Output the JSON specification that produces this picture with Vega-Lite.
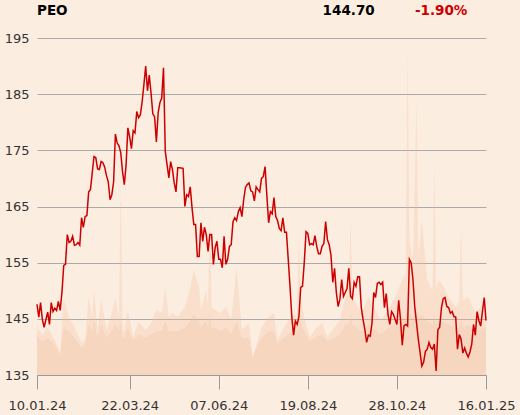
{
  "$schema": "https://vega.github.io/schema/vega-lite/v6.json",
  "width": 449,
  "height": 337,
  "autosize": {"type": "none"},
  "padding": {"left": 37, "top": 38, "right": 34, "bottom": 40},
  "background": "#fcede1",
  "config": {"font": "DejaVu Sans", "view": {"stroke": null}},
  "datasets": {
    "px": [
      {"i":0,"p":147.6},{"i":1,"p":145.3},{"i":2,"p":147.9},{"i":3,"p":144.9},{"i":4,"p":143.5},{"i":6,"p":146.2},{"i":7,"p":144},{"i":8,"p":147.9},{"i":9,"p":146.3},{"i":10,"p":146.9},
      {"i":11,"p":146.5},{"i":12,"p":148.1},{"i":13,"p":146.5},{"i":14,"p":149.7},{"i":15,"p":154.5},{"i":16,"p":154.7},{"i":17,"p":160},{"i":18,"p":158.6},{"i":19,"p":158.8},{"i":20,"p":159.7},
      {"i":21,"p":158.1},{"i":22,"p":158.2},{"i":23,"p":158.6},{"i":24,"p":158.1},{"i":25,"p":163},{"i":26,"p":161.3},{"i":27,"p":163.2},{"i":28,"p":163.4},{"i":29,"p":167.6},{"i":30,"p":168},
      {"i":31,"p":171},{"i":32,"p":173.9},{"i":33,"p":173.7},{"i":34,"p":171.7},{"i":35,"p":171.6},{"i":36,"p":173},{"i":37,"p":172.8},{"i":38,"p":172},{"i":39,"p":170.5},{"i":40,"p":169.4},
      {"i":41,"p":166.2},{"i":42,"p":167.1},{"i":43,"p":169.4},{"i":44,"p":177.9},{"i":45,"p":176.3},{"i":46,"p":175.8},{"i":47,"p":174.6},{"i":48,"p":171.2},{"i":49,"p":168.9},{"i":50,"p":172.4},
      {"i":51,"p":179},{"i":52,"p":177.4},{"i":53,"p":175.3},{"i":54,"p":178.5},{"i":55,"p":178.1},{"i":56,"p":181.9},{"i":57,"p":180.8},{"i":58,"p":181.3},{"i":59,"p":183.6},{"i":60,"p":186.7},
      {"i":61,"p":190},{"i":62,"p":185.6},{"i":63,"p":188.4},{"i":64,"p":185.2},{"i":65,"p":181.5},{"i":66,"p":181},{"i":67,"p":176.5},{"i":68,"p":181.7},{"i":69,"p":183.5},{"i":70,"p":184.3},
      {"i":71,"p":189.7},{"i":72,"p":174.8},{"i":73,"p":172.4},{"i":74,"p":170.1},{"i":75,"p":173},{"i":76,"p":171.6},{"i":77,"p":169.2},{"i":78,"p":167.6},{"i":79,"p":171.9},{"i":80,"p":171.9},
      {"i":82,"p":171.8},{"i":83,"p":165},{"i":84,"p":167.1},{"i":85,"p":166.8},{"i":86,"p":168.5},{"i":87,"p":164.8},{"i":88,"p":161.8},{"i":89,"p":161.8},{"i":90,"p":156.1},
      {"i":91,"p":156.1},{"i":92,"p":162.1},{"i":93,"p":158.8},{"i":94,"p":161.3},{"i":95,"p":160},{"i":96,"p":157},{"i":97,"p":160},{"i":98,"p":160},{"i":99,"p":154.7},{"i":100,"p":157.7},
      {"i":101,"p":158.8},{"i":102,"p":155.6},{"i":103,"p":155.6},{"i":104,"p":154.1},{"i":105,"p":159.7},{"i":106,"p":154.7},{"i":107,"p":155.6},{"i":108,"p":157.9},{"i":109,"p":158.2},{"i":110,"p":162.3},
      {"i":111,"p":163},{"i":112,"p":162.5},{"i":113,"p":164.1},{"i":114,"p":164.8},{"i":115,"p":163.2},{"i":116,"p":166.2},{"i":117,"p":168.4},{"i":118,"p":168.9},{"i":119,"p":169.2},{"i":120,"p":167.8},
      {"i":121,"p":167.6},{"i":122,"p":166},{"i":123,"p":168.5},{"i":124,"p":168},{"i":125,"p":167.6},{"i":126,"p":170},{"i":127,"p":170.3},{"i":128,"p":172.1},{"i":129,"p":167},{"i":130,"p":162.1},
      {"i":131,"p":164.1},{"i":132,"p":163.7},{"i":133,"p":166.6},{"i":134,"p":163.2},{"i":135,"p":162.5},{"i":136,"p":161.1},{"i":137,"p":160.7},{"i":138,"p":163},{"i":139,"p":160.4},{"i":140,"p":160.4},
      {"i":141,"p":155.6},{"i":142,"p":150.8},{"i":143,"p":145.4},{"i":144,"p":142.1},{"i":145,"p":144.6},{"i":146,"p":144},{"i":147,"p":145.4},{"i":148,"p":150.6},{"i":149,"p":150.8},{"i":150,"p":155},
      {"i":151,"p":160.5},{"i":152,"p":160.2},{"i":153,"p":158.2},{"i":154,"p":158.4},{"i":155,"p":158.2},{"i":156,"p":159.8},{"i":157,"p":157.9},{"i":158,"p":156.6},{"i":159,"p":156.6},{"i":160,"p":157.9},
      {"i":161,"p":158.4},{"i":162,"p":162.3},{"i":163,"p":159.1},{"i":164,"p":158.2},{"i":165,"p":156.3},{"i":166,"p":151.5},{"i":167,"p":154},{"i":168,"p":149.7},{"i":169,"p":147.2},{"i":170,"p":148.5},
      {"i":171,"p":152},{"i":172,"p":149},{"i":173,"p":149.7},{"i":174,"p":150.4},{"i":175,"p":154},{"i":176,"p":149},{"i":177,"p":148.6},{"i":178,"p":151.5},{"i":179,"p":150.8},{"i":180,"p":152.5},
      {"i":181,"p":152.5},{"i":182,"p":147},{"i":183,"p":144.9},{"i":184,"p":143.1},{"i":185,"p":140.8},{"i":186,"p":142.1},{"i":187,"p":141.9},{"i":188,"p":144.2},{"i":189,"p":149.7},{"i":190,"p":148.8},
      {"i":191,"p":151.3},{"i":192,"p":151.5},{"i":193,"p":151.1},{"i":194,"p":151.5},{"i":195,"p":147},{"i":196,"p":149.5},{"i":197,"p":145.8},{"i":198,"p":144},{"i":199,"p":146.3},{"i":200,"p":145.8},
      {"i":201,"p":144.9},{"i":202,"p":144},{"i":203,"p":148.3},{"i":204,"p":144.9},{"i":205,"p":140.3},{"i":206,"p":143.8},{"i":207,"p":144},{"i":208,"p":143.7},{"i":209,"p":155.6},{"i":210,"p":155},
      {"i":211,"p":152},{"i":212,"p":147.2},{"i":214,"p":141.4},{"i":216,"p":136.6},{"i":217,"p":137.3},{"i":218,"p":139.2},{"i":219,"p":139.6},{"i":220,"p":140.8},
      {"i":221,"p":139.9},{"i":222,"p":139.6},{"i":223,"p":140.5},{"i":224,"p":135.7},{"i":225,"p":143.1},{"i":226,"p":143.5},{"i":227,"p":147},{"i":228,"p":148.6},{"i":229,"p":148.8},{"i":230,"p":147.2},
      {"i":231,"p":147},{"i":232,"p":146},{"i":233,"p":146.3},{"i":234,"p":145.4},{"i":235,"p":145.3},{"i":236,"p":139.6},{"i":237,"p":142.2},{"i":238,"p":141.4},{"i":239,"p":138.9},{"i":240,"p":139.8},
      {"i":241,"p":138.9},{"i":242,"p":138.2},{"i":243,"p":139.1},{"i":244,"p":140.5},{"i":245,"p":144},{"i":246,"p":142.1},{"i":247,"p":146.3},{"i":248,"p":144.7},{"i":249,"p":143.7},{"i":250,"p":146.3},
      {"i":251,"p":148.8},{"i":252,"p":144.7}
    ],
    "vol": [
      {"i":0,"v":1.5,"s":1.2},{"i":1,"v":1.34,"s":1.1},{"i":3,"v":1.2,"s":1.0},{"i":6,"v":1.42,"s":1.1},{"i":10,"v":1.04,"s":0.9},{"i":13,"v":0.65,"s":0.6},{"i":15,"v":2.28,"s":1.4},
      {"i":18,"v":1.72,"s":1.3},{"i":21,"v":1.42,"s":1.1},{"i":25,"v":0.95,"s":0.8},{"i":27,"v":1.04,"s":0.9},{"i":29,"v":2.31,"s":1.5},{"i":31,"v":1.72,"s":1.3},{"i":32,"v":2.52,"s":1.6},
      {"i":34,"v":1.34,"s":1.1},{"i":36,"v":2.28,"s":1.5},{"i":39,"v":1.34,"s":1.1},{"i":42,"v":1.84,"s":1.3},{"i":44,"v":2.28,"s":1.5},{"i":46,"v":1.72,"s":1.3},{"i":47,"v":5.79,"s":1.6},
      {"i":48,"v":1.3,"s":1.1},{"i":49,"v":1.34,"s":1.1},{"i":51,"v":1.93,"s":1.4},{"i":54,"v":1.13,"s":1.0},{"i":57,"v":1.57,"s":1.2},{"i":61,"v":1.34,"s":1.1},{"i":64,"v":1.54,"s":1.2},
      {"i":67,"v":1.93,"s":1.3},{"i":70,"v":1.84,"s":1.3},{"i":72,"v":2.58,"s":1.6},{"i":74,"v":1.72,"s":1.3},{"i":76,"v":1.84,"s":1.3},{"i":79,"v":1.72,"s":1.3},{"i":83,"v":2.02,"s":1.4},
      {"i":86,"v":2.58,"s":1.6},{"i":88,"v":3.12,"s":1.8},{"i":91,"v":2.61,"s":1.6},{"i":92,"v":1.93,"s":1.4},{"i":95,"v":2.52,"s":1.6},{"i":96,"v":2.0,"s":1.4},{"i":97,"v":4.75,"s":1.8},
      {"i":98,"v":2.0,"s":1.4},{"i":100,"v":1.93,"s":1.4},{"i":103,"v":1.84,"s":1.3},{"i":106,"v":2.02,"s":1.4},{"i":109,"v":1.63,"s":1.2},{"i":112,"v":3.2,"s":1.6},{"i":115,"v":1.34,"s":1.1},
      {"i":119,"v":1.54,"s":1.1},{"i":121,"v":0.53,"s":0.5},{"i":124,"v":1.04,"s":0.9},{"i":126,"v":1.42,"s":1.1},{"i":130,"v":1.72,"s":1.3},{"i":133,"v":1.84,"s":1.3},{"i":135,"v":1.04,"s":0.9},
      {"i":138,"v":1.34,"s":1.1},{"i":141,"v":1.63,"s":1.2},{"i":144,"v":1.78,"s":1.3},{"i":146,"v":1.8,"s":1.3},{"i":147,"v":4.07,"s":1.7},{"i":148,"v":2.31,"s":1.5},{"i":150,"v":1.72,"s":1.3},
      {"i":153,"v":1.13,"s":1.0},{"i":156,"v":1.34,"s":1.1},{"i":160,"v":1.54,"s":1.2},{"i":163,"v":1.13,"s":1.0},{"i":167,"v":1.42,"s":1.1},{"i":170,"v":1.63,"s":1.2},{"i":173,"v":2.31,"s":1.5},
      {"i":175,"v":2.4,"s":1.5},{"i":176,"v":4.6,"s":1.8},{"i":177,"v":2.31,"s":1.5},{"i":182,"v":1.84,"s":1.3},{"i":186,"v":2.31,"s":1.5},{"i":189,"v":2.02,"s":1.4},{"i":193,"v":1.63,"s":1.2},
      {"i":197,"v":1.93,"s":1.4},{"i":201,"v":2.31,"s":1.5},{"i":205,"v":2.82,"s":1.7},{"i":207,"v":3.0,"s":1.7},{"i":208,"v":9.7,"s":2.0},{"i":209,"v":4.0,"s":1.8},{"i":211,"v":3.32,"s":1.7},
      {"i":213,"v":8.07,"s":2.0},{"i":214,"v":3.5,"s":1.7},{"i":216,"v":4.6,"s":1.8},{"i":219,"v":2.82,"s":1.6},{"i":222,"v":2.5,"s":1.5},{"i":223,"v":6.29,"s":1.8},{"i":224,"v":2.6,"s":1.5},
      {"i":226,"v":2.82,"s":1.6},{"i":231,"v":2.31,"s":1.5},{"i":235,"v":2.02,"s":1.4},{"i":237,"v":2.2,"s":1.4},{"i":238,"v":4.45,"s":1.7},{"i":239,"v":2.2,"s":1.4},{"i":242,"v":2.31,"s":1.5},
      {"i":246,"v":1.84,"s":1.3},{"i":251,"v":2.14,"s":1.4},{"i":252,"v":2.0,"s":1.4}
    ],
    "hdr": [
      {"label": "PEO", "pos": 0, "col": "black"},
      {"label": "144.70", "pos": 160.3, "col": "black"},
      {"label": "-1.90%", "pos": 212.1, "col": "red"}
    ]
  },
  "layer": [
    {
      "data": {"name": "vol"},
      "encoding": {
        "x": {"field": "i", "type": "quantitative", "scale": {"domain": [0, 252], "nice": false, "zero": false},
              "axis": {"values": [0, 52, 102, 152, 202, 252], "labelExpr": "datum.value==0?'10.01.24':datum.value==52?'22.03.24':datum.value==102?'07.06.24':datum.value==152?'19.08.24':datum.value==202?'28.10.24':'16.01.25'", "grid": false, "title": null, "tickSize": 14, "tickColor": "#9a9a9a", "domainColor": "#9a9a9a", "labelPadding": 10, "labelFontSize": 13, "labelColor": "#333333", "labelFlush": false, "labelOverlap": false}}
      },
      "layer": [
        {"mark": {"type": "area", "color": "#f2c09a", "opacity": 0.3, "interpolate": "linear"},
         "encoding": {"y": {"field": "v", "type": "quantitative", "scale": {"domain": [0, 10]}, "axis": null}}},
        {"mark": {"type": "area", "color": "#f2c09a", "opacity": 0.28, "interpolate": "linear"},
         "encoding": {"y": {"field": "s", "type": "quantitative", "scale": {"domain": [0, 10]}, "axis": null}}}
      ]
    },
    {
      "layer": [
        {
          "data": {"name": "px"},
          "mark": {"type": "line", "color": "#cc0000", "strokeWidth": 1.5},
          "encoding": {
            "x": {"field": "i", "type": "quantitative", "scale": {"domain": [0, 252], "nice": false, "zero": false},
                  "axis": {"values": [0, 52, 102, 152, 202, 252], "labelExpr": "datum.value==0?'10.01.24':datum.value==52?'22.03.24':datum.value==102?'07.06.24':datum.value==152?'19.08.24':datum.value==202?'28.10.24':'16.01.25'", "grid": false, "title": null, "tickSize": 14, "tickColor": "#9a9a9a", "domainColor": "#9a9a9a", "labelPadding": 10, "labelFontSize": 13, "labelColor": "#333333", "labelFlush": false, "labelOverlap": false}},
            "y": {"field": "p", "type": "quantitative", "scale": {"domain": [135, 195], "nice": false, "zero": false},
                  "axis": {"values": [135, 145, 155, 165, 175, 185, 195], "grid": true, "gridColor": "#aaaaaa", "gridWidth": 1, "domain": false, "ticks": false, "labelPadding": 8, "labelFontSize": 13, "labelColor": "#333333", "title": null}}
          }
        },
        {
          "data": {"name": "hdr"},
          "mark": {"type": "text", "align": "left", "baseline": "alphabetic", "fontSize": 13.5, "fontWeight": "bold"},
          "encoding": {
            "text": {"field": "label"},
            "x": {"field": "pos", "type": "quantitative"},
            "y": {"datum": 199.1, "type": "quantitative"},
            "color": {"field": "col", "type": "nominal", "scale": {"domain": ["black", "red"], "range": ["#000000", "#cc0000"]}, "legend": null}
          }
        }
      ]
    }
  ],
  "resolve": {"scale": {"y": "independent"}}
}
